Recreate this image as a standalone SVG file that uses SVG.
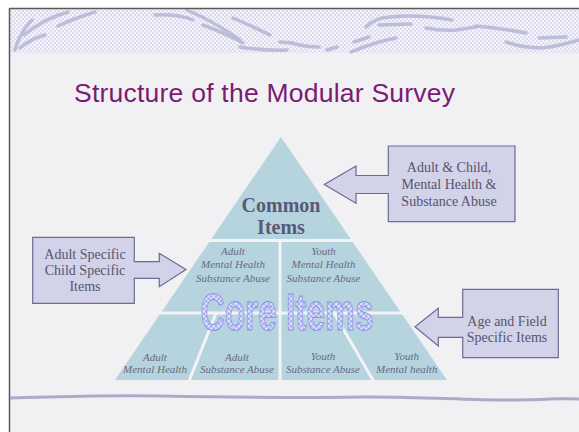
<svg xmlns="http://www.w3.org/2000/svg" width="579" height="432" viewBox="0 0 579 432">
<defs>
<pattern id="chk" width="4" height="4" patternUnits="userSpaceOnUse">
<rect width="4" height="4" fill="#f4f4fa"/>
<rect width="2" height="2" fill="#dcdcee"/>
<rect x="2" y="2" width="2" height="2" fill="#dcdcee"/>
</pattern>
<pattern id="corechk" width="5" height="5" patternUnits="userSpaceOnUse">
<rect width="5" height="5" fill="#dde2fb"/>
<rect width="2.5" height="2.5" fill="#a8aef0"/>
<rect x="2.5" y="2.5" width="2.5" height="2.5" fill="#a8aef0"/>
</pattern>
<style>
.swirl{fill:none;stroke:#b8b8d6;stroke-width:3.5;stroke-linecap:round;opacity:0.9}
.callout{fill:#d2d2e8;stroke:#6b6b95;stroke-width:1.2}
.ctext{font-family:"Liberation Serif",serif;font-size:14px;fill:#55556e;text-anchor:middle}
.ptext{font-family:"Liberation Serif",serif;font-style:italic;font-size:11px;fill:#6a6a84;text-anchor:middle}
.gap{stroke:#f3f3f6;stroke-width:3;fill:none}
</style>
</defs>
<rect width="579" height="432" fill="#ffffff"/>
<rect x="9" y="8" width="570" height="424" fill="#f1f1f3"/>
<rect x="9" y="9" width="570" height="44" fill="url(#chk)"/>
<g id="swirls">
<path class="swirl" d="M15,50 Q20,32 32,20"/>
<path class="swirl" d="M20,48 Q32,38 45,35"/>
<path class="swirl" d="M24,35 Q45,18 68,12"/>
<path class="swirl" d="M58,26 Q75,18 95,12"/>
<path class="swirl" d="M155,15 Q178,14 193,20"/>
<path class="swirl" d="M187,10 Q215,22 240,40"/>
<path class="swirl" d="M203,25 Q225,33 243,43"/>
<path class="swirl" d="M233,18 Q252,26 270,35"/>
<path class="swirl" d="M240,47 Q265,51 287,50"/>
<path class="swirl" d="M280,42 L292,43"/>
<path class="swirl" d="M292,43 Q305,47 319,47"/>
<path class="swirl" d="M327,50 L337,47"/>
<path class="swirl" d="M366,27 Q375,18 389,17 Q420,14 452,20"/>
<path class="swirl" d="M379,25 L411,24"/>
<path class="swirl" d="M354,42 L369,37"/>
<path class="swirl" d="M351,52 Q375,42 396,38"/>
<path class="swirl" d="M426,28 Q441,31 456,30 L476,27"/>
<path class="swirl" d="M476,26 Q500,28 526,33"/>
<path class="swirl" d="M506,42 Q522,48 542,48 Q560,46 579,40"/>
<path class="swirl" d="M539,38 L566,37"/>
</g>
<line x1="9" y1="8.5" x2="579" y2="8.5" stroke="#5a5a5a" stroke-width="1.5"/>
<line x1="9.5" y1="8" x2="9.5" y2="432" stroke="#5a5a5a" stroke-width="1.5"/>
<path d="M10,398 C60,397 100,395 160,396 S300,398 360,397 S470,401 520,400 S560,398 579,399" fill="none" stroke="#aaaacd" stroke-width="3"/>
<text x="74" y="101.5" textLength="381" lengthAdjust="spacing" font-family="Liberation Sans, Arial, sans-serif" font-size="26.5" fill="#7b1b73">Structure of the Modular Survey</text>
<g id="pyramid">
<polygon points="281,137 115,380 447,380" fill="#b5d4de"/>
<line class="gap" x1="180" y1="240.5" x2="380" y2="240.5"/>
<line class="gap" x1="150" y1="313" x2="410" y2="313" stroke-width="2.5"/>
<line class="gap" x1="280" y1="241" x2="280" y2="381"/>
<line class="gap" x1="216" y1="313" x2="189" y2="381"/>
<line class="gap" x1="334" y1="313" x2="373.5" y2="381"/>
</g>
<g id="common-items">
<text x="281" y="211.5" font-family="Liberation Serif, serif" font-weight="bold" font-size="20" fill="#5a5a78" text-anchor="middle">Common</text>
<text x="281" y="234" font-family="Liberation Serif, serif" font-weight="bold" font-size="20" fill="#5a5a78" text-anchor="middle">Items</text>
</g>
<g id="mid-left">
<text class="ptext" x="233" y="255">Adult</text>
<text class="ptext" x="233" y="268.3">Mental Health</text>
<text class="ptext" x="233" y="281.7">Substance Abuse</text>
</g>
<g id="mid-right">
<text class="ptext" x="323.5" y="255">Youth</text>
<text class="ptext" x="323.5" y="268.3">Mental Health</text>
<text class="ptext" x="323.5" y="281.7">Substance Abuse</text>
</g>
<g id="core-items">
<text x="200.5" y="329.5" textLength="173" lengthAdjust="spacingAndGlyphs" font-family="Liberation Sans, Arial, sans-serif" font-weight="bold" font-size="51" fill="url(#corechk)" stroke="#9090e6" stroke-width="1">Core Items</text>
</g>
<g id="bottom-1">
<text class="ptext" x="155" y="360.7">Adult</text>
<text class="ptext" x="155" y="373.3">Mental Health</text>
</g>
<g id="bottom-2">
<text class="ptext" x="237" y="360.7">Adult</text>
<text class="ptext" x="237" y="373.3">Substance Abuse</text>
</g>
<g id="bottom-3">
<text class="ptext" x="323" y="360">Youth</text>
<text class="ptext" x="323" y="373.3">Substance Abuse</text>
</g>
<g id="bottom-4">
<text class="ptext" x="406.7" y="360">Youth</text>
<text class="ptext" x="406.7" y="373.3">Mental health</text>
</g>
<g id="connectors">
<path class="callout" d="M32.7,237.3 H134.3 V261.7 H159.3 V253.3 L186,269.5 L159.3,286.7 V278.3 H134.3 V303.3 H32.7 Z"/>
<path class="callout" d="M515,146 V221.7 H388.3 V193.5 H356 V203.3 L324.3,184.5 L356,166 V175.5 H388.3 V146 Z"/>
<path class="callout" d="M558.3,289.3 V357.7 H462.7 V337.3 H438.3 V346 L415,326.7 L438.3,308.3 V317.3 H462.7 V289.3 Z"/>
</g>
<g id="callout-left">
<text class="ctext" x="85" y="259">Adult Specific</text>
<text class="ctext" x="85" y="274.5">Child Specific</text>
<text class="ctext" x="85" y="290.5">Items</text>
</g>
<g id="callout-top-right">
<text class="ctext" x="449" y="171.7" font-size="13.5">Adult &amp; Child,</text>
<text class="ctext" x="449" y="188.7" font-size="13.5">Mental Health &amp;</text>
<text class="ctext" x="449" y="206" font-size="13.5">Substance Abuse</text>
</g>
<g id="callout-bottom-right">
<text class="ctext" x="507" y="325.7">Age and Field</text>
<text class="ctext" x="507" y="341.7">Specific Items</text>
</g>
</svg>
